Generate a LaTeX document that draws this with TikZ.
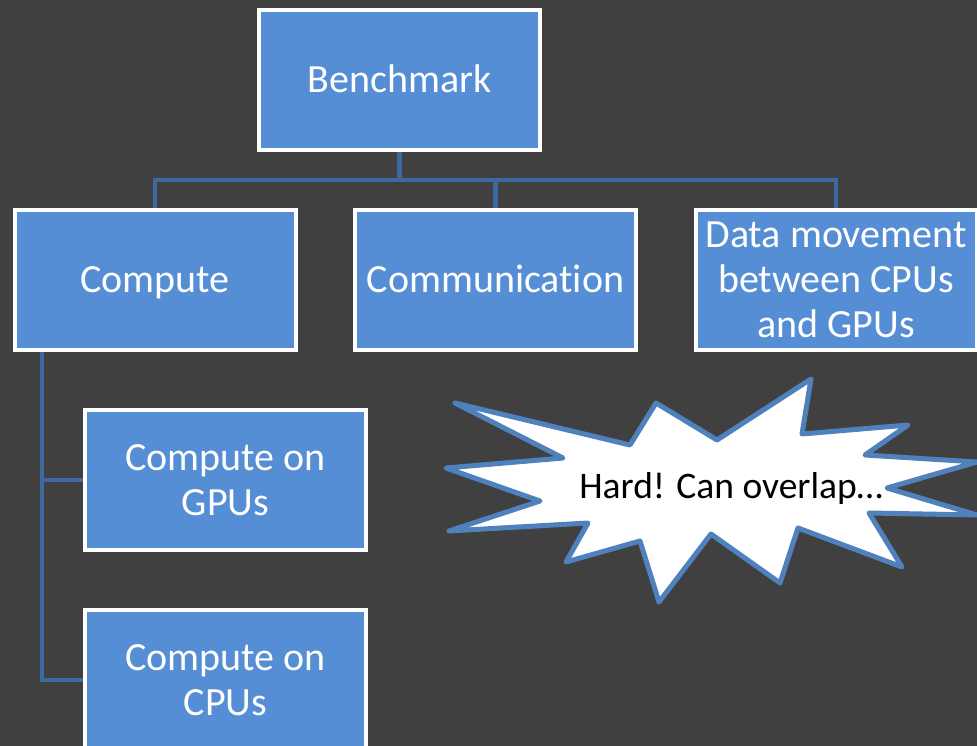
\documentclass[tikz,border=0pt]{standalone}
\usepackage{fontspec}
\setmainfont{Carlito}[Ligatures=NoCommon]
\definecolor{bgc}{RGB}{64,64,64}
\definecolor{boxc}{RGB}{85,142,213}
\definecolor{connc}{RGB}{62,104,160}
\definecolor{burstc}{RGB}{79,129,189}
\tikzset{
  orgbox/.style={draw=white, line width=4pt, fill=boxc, text=white,
    minimum width=281pt, minimum height=140pt, inner sep=0pt, align=center,
    font=\fontsize{40}{45}\selectfont, text depth=0pt},
  one/.style={text height=25.3pt},
  two/.style={text height=70.3pt},
  three/.style={text height=115.3pt},
  conn/.style={draw=connc, line width=4.2pt},
  burst/.style={draw=burstc, fill=white, line width=5pt, line join=round},
  bursttext/.style={text=black, font=\fontsize{37.5}{40}\selectfont, inner sep=0pt,
    text height=23.7pt, text depth=0pt}
}
\begin{document}
\begin{tikzpicture}[x=1pt, y=-1pt]
\fill[bgc] (0,0) rectangle (977,746);
\useasboundingbox (0,0) rectangle (977,746);

% node frames named first, so that connectors can run between them
\path
  node[orgbox, one, fill=none, draw=none] (bench) at (399.5,80) {}
  node[orgbox, one, fill=none, draw=none] (comp)  at (155,280) {}
  node[orgbox, one, fill=none, draw=none] (comm)  at (495.5,280) {}
  node[orgbox, one, fill=none, draw=none] (data)  at (836,280) {}
  node[orgbox, one, fill=none, draw=none] (gpu)   at (225.5,480) {}
  node[orgbox, one, fill=none, draw=none] (cpu)   at (225.5,680) {};

\coordinate (bus) at (399.5,180);
\coordinate (trk) at (42,350);

% connectors
\draw[conn] (bench.south) -- (bus);
\draw[conn] (comp.north) |- (bus) -| (data.north);
\draw[conn] (comm.north) -- (comm.north |- bus);
\draw[conn] (trk) |- (gpu.west);
\draw[conn] (trk) |- (cpu.west);

% visible boxes
\node[orgbox, one]   at (bench) {Benchmark};
\node[orgbox, one]   at (comp)  {Compute};
\node[orgbox, one]   at (comm)  {Communication};
\node[orgbox, three] at (data)  {Data movement\\between CPUs\\and GPUs};
\node[orgbox, two]   at (gpu)   {Compute on\\GPUs};
\node[orgbox, two]   at (cpu)   {Compute on\\CPUs};

% starburst
\draw[burst] (455,403) -- (630,445) -- (656,403) -- (717,440) -- (811,379)
  -- (802,434) -- (908,425) -- (865,455) -- (977,462) -- (887,488)
  -- (977,515) -- (869,513) -- (902,567) -- (798,528) -- (780,583)
  -- (711,534) -- (659,602) -- (640,541) -- (566,562) -- (588,523)
  -- (449,531) -- (540,501) -- (446,468) -- (563,458) -- cycle;
\node[bursttext] (hard) at (731,487) {Hard! Can overlap…};
\end{tikzpicture}
\end{document}
